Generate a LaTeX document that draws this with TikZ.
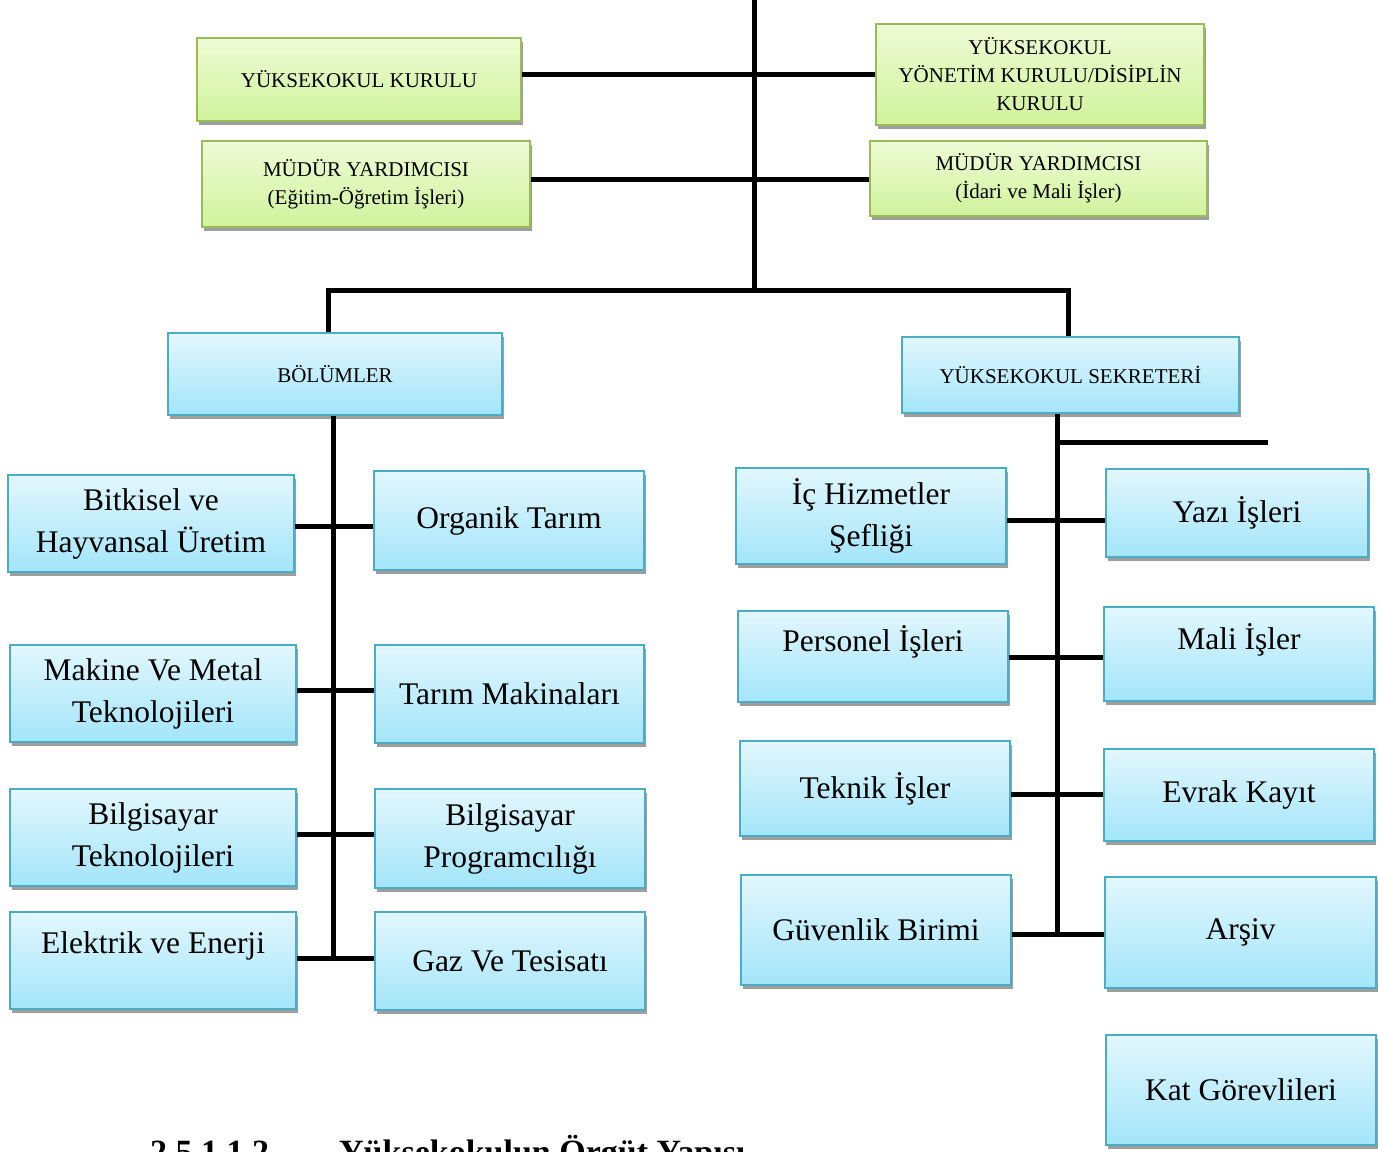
\documentclass[tikz,border=0pt]{standalone}
\usepackage{fontspec}
\setmainfont{Liberation Serif}
\usepackage{xcolor}
\usetikzlibrary{shadows}
\definecolor{greentop}{HTML}{EEFBD5}
\definecolor{greenbot}{HTML}{D0F39C}
\definecolor{greenline}{HTML}{9BBB59}
\definecolor{bluetop}{HTML}{E2F7FD}
\definecolor{bluebot}{HTML}{A3E5FA}
\definecolor{blueline}{HTML}{4BACC6}
\definecolor{shadowgray}{gray}{0.62}

\begin{document}
\begin{tikzpicture}[x=1pt, y=-1pt,
    boxbase/.style={shape=rectangle, line width=1.5pt, inner sep=2pt, align=center,
        drop shadow={shadow xshift=1.5pt, shadow yshift=-3.5pt, fill=shadowgray, opacity=1}},
    greenbox/.style={boxbase, draw=greenline, top color=greentop, bottom color=greenbot,
        font=\fontsize{21}{28}\selectfont},
    bluebox/.style={boxbase, draw=blueline, top color=bluetop, bottom color=bluebot,
        font=\fontsize{21}{28}\selectfont},
    unitbox/.style={bluebox, font=\fontsize{31.5}{42}\selectfont},
    lifted/.style={text depth=36pt},
    conn/.style={line width=5pt},
    captiontext/.style={inner sep=0pt, font=\fontsize{34}{40}\selectfont\bfseries}
]
% Page frame
\clip (0,0) rectangle (1378,1151);

% Boxes

% top
\node[greenbox, minimum width=324pt, minimum height=83pt] (kurulu) at (359,79.5) {YÜKSEKOKUL KURULU};
\node[greenbox, minimum width=328pt, minimum height=101pt] (yonetim) at (1040,74.5) {YÜKSEKOKUL\\YÖNETİM KURULU/DİSİPLİN\\KURULU};
\node[greenbox, minimum width=328pt, minimum height=86pt] (mudur_egitim) at (366,184) {MÜDÜR YARDIMCISI\\(Eğitim-Öğretim İşleri)};
\node[greenbox, minimum width=337pt, minimum height=75pt] (mudur_idari) at (1038.5,178.5) {MÜDÜR YARDIMCISI\\(İdari ve Mali İşler)};

% middle
\node[bluebox, minimum width=334pt, minimum height=82pt] (bolumler) at (335,374) {BÖLÜMLER};
\node[bluebox, minimum width=337pt, minimum height=76pt] (sekreter) at (1070.5,375) {YÜKSEKOKUL SEKRETERİ};

% bolumler
\node[unitbox, minimum width=286pt, minimum height=97pt] (bitkisel) at (151,523.5) {Bitkisel ve\\Hayvansal Üretim};
\node[unitbox, minimum width=270pt, minimum height=99pt] (organik) at (509,520.5) {Organik Tarım};
\node[unitbox, minimum width=286pt, minimum height=97pt] (makine) at (153,693.5) {Makine Ve Metal\\Teknolojileri};
\node[unitbox, minimum width=269pt, minimum height=98pt] (tarim_mak) at (509.5,694) {Tarım Makinaları};
\node[unitbox, minimum width=286pt, minimum height=97pt] (bilg_tek) at (153,837.5) {Bilgisayar\\Teknolojileri};
\node[unitbox, minimum width=270pt, minimum height=99pt] (bilg_prog) at (510,838.5) {Bilgisayar\\Programcılığı};
\node[unitbox, lifted, minimum width=286pt, minimum height=97pt] (elektrik) at (153,960.5) {Elektrik ve Enerji};
\node[unitbox, minimum width=270pt, minimum height=98pt] (gaz) at (510,961) {Gaz Ve Tesisatı};

% sekreter
\node[unitbox, minimum width=270pt, minimum height=96pt] (ic_hizmet) at (871,516) {İç Hizmetler\\Şefliği};
\node[unitbox, minimum width=262pt, minimum height=88pt] (yazi) at (1237,513) {Yazı İşleri};
\node[unitbox, lifted, minimum width=270pt, minimum height=91pt] (personel) at (873,656.5) {Personel İşleri};
\node[unitbox, lifted, minimum width=270pt, minimum height=94pt] (mali) at (1239,654) {Mali İşler};
\node[unitbox, minimum width=270pt, minimum height=95pt] (teknik) at (875,788.5) {Teknik İşler};
\node[unitbox, minimum width=270pt, minimum height=92pt] (evrak) at (1239,795) {Evrak Kayıt};
\node[unitbox, minimum width=270pt, minimum height=110pt] (guvenlik) at (876,930) {Güvenlik Birimi};
\node[unitbox, minimum width=271pt, minimum height=111pt] (arsiv) at (1240.5,932.5) {Arşiv};
\node[unitbox, minimum width=270pt, minimum height=110pt] (kat) at (1241,1090) {Kat Görevlileri};

% caption, cut by the page edge
\node[captiontext, anchor=base west] (baslik) at (150,1163) {2.5.1.1.2\hspace{70pt}Yüksekokulun Örgüt Yapısı};

% Coordinates
\coordinate (trunk_top) at (754,0);
\coordinate (hub) at (754,290);
\coordinate (row_kurul) at (0,74);
\coordinate (row_mudur) at (0,179);
\coordinate (left_top) at ([xshift=-2pt]bolumler.south);
\coordinate (right_top) at ([xshift=-13pt]sekreter.south);
\coordinate (free_end) at (1268,442);

\coordinate (row_l1) at (0,526);
\coordinate (row_l2) at (0,690);
\coordinate (row_l3) at (0,834);
\coordinate (row_l4) at (0,958);
\coordinate (row_r1) at (0,520);
\coordinate (row_r2) at (0,657);
\coordinate (row_r3) at (0,794);
\coordinate (row_r4) at (0,934);

% Lines
\draw[conn] (trunk_top) -- (hub);
\draw[conn] (kurulu.east |- row_kurul) -- (yonetim.west |- row_kurul);
\draw[conn] (mudur_egitim.east |- row_mudur) -- (mudur_idari.west |- row_mudur);
\draw[conn] ([xshift=-7pt]bolumler.north) |- (hub) -| ([xshift=-2pt]sekreter.north);

\draw[conn] (left_top) -- (left_top |- row_l4);
\draw[conn] (bitkisel.east |- row_l1) -- (organik.west |- row_l1);
\draw[conn] (makine.east |- row_l2) -- (tarim_mak.west |- row_l2);
\draw[conn] (bilg_tek.east |- row_l3) -- (bilg_prog.west |- row_l3);
\draw[conn] (elektrik.east |- row_l4) -- (gaz.west |- row_l4);

\draw[conn] (right_top) -- (right_top |- row_r4);
\draw[conn] (right_top |- free_end) -- (free_end);
\draw[conn] (ic_hizmet.east |- row_r1) -- (yazi.west |- row_r1);
\draw[conn] (personel.east |- row_r2) -- (mali.west |- row_r2);
\draw[conn] (teknik.east |- row_r3) -- (evrak.west |- row_r3);
\draw[conn] (guvenlik.east |- row_r4) -- (arsiv.west |- row_r4);

\end{tikzpicture}
\end{document}
